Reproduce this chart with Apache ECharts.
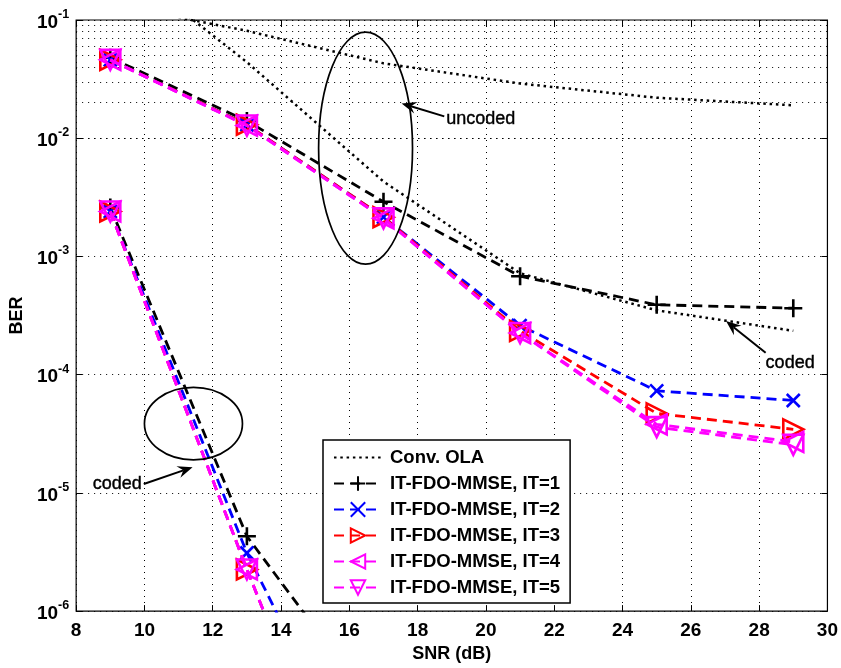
<!DOCTYPE html>
<html>
<head>
<meta charset="utf-8">
<script src="https://cdn.jsdelivr.net/npm/echarts@6/dist/echarts.min.js"></script>
<style>
  html, body { margin: 0; padding: 0; background: #fff; }
  #chart { width: 841px; height: 668px; }
</style>
</head>
<body>
<div id="chart"></div>
<script>
// SNR points (dB)
const snrUncoded = [9, 13, 17, 21, 25, 29]
const snrCoded = [9, 13, 17]
const snrOla = [11, 13, 17, 21, 25, 29]

// Conv. OLA curves
const olaUncoded = [0.105, 8.1e-2, 4.3e-2, 2.9e-2, 2.2e-2, 1.9e-2]
const olaCoded = [0.125, 4.4e-2, 4.3e-3, 7.2e-4, 3.5e-4, 2.35e-4]

// IT-FDO-MMSE, uncoded (upper group)
const it1Uncoded = [4.8e-2, 1.4e-2, 2.9e-3, 6.8e-4, 3.9e-4, 3.65e-4]
const it2Uncoded = [4.6e-2, 1.3e-2, 2.15e-3, 2.6e-4, 7.3e-5, 6.05e-5]
const it3Uncoded = [4.6e-2, 1.3e-2, 2.15e-3, 2.35e-4, 4.7e-5, 3.45e-5]
const it4Uncoded = [4.6e-2, 1.28e-2, 2.1e-3, 2.25e-4, 3.8e-5, 2.7e-5]
const it5Uncoded = [4.6e-2, 1.28e-2, 2.1e-3, 2.25e-4, 3.6e-5, 2.55e-5]

// IT-FDO-MMSE, coded (steep group, goes below 1e-6)
const it1Coded = [2.6e-3, 4.3e-6, 1.2e-7]
const it2Coded = [2.4e-3, 3.1e-6, 1.5e-8]
const it3Coded = [2.4e-3, 2.25e-6, 3e-9]
const it4Coded = [2.4e-3, 2.25e-6, 3e-9]
const it5Coded = [2.4e-3, 2.25e-6, 3e-9]

const itNames = ['IT-FDO-MMSE, IT=1', 'IT-FDO-MMSE, IT=2', 'IT-FDO-MMSE, IT=3', 'IT-FDO-MMSE, IT=4', 'IT-FDO-MMSE, IT=5']

// annotations, in data coordinates
const ellipseUncoded = [15.1, 17.85, 8.6e-4, 7.9e-2] // x0, x1, y0, y1
const ellipseCoded = [10.0, 12.87, 1.9e-5, 7.8e-5]
const arrowUncoded = [[18.78, 1.53e-2], [17.53, 1.97e-2]] // tail, tip
const arrowCodedLeft = [[9.98, 1.19e-5], [11.41, 1.65e-5]]
const arrowCodedRight = [[28.19, 1.53e-4], [27.03, 2.84e-4]]

const FONT = 'Liberation Sans, Arial, Helvetica, sans-serif'
const itColors = ['#000000', '#0000ff', '#ff0000', '#ff00ff', '#ff00ff']
const itSymbols = [
  'path://M0,5L10,5M5,0L5,10',
  'path://M0,0L10,10M10,0L0,10',
  'path://M0,0L10,5L0,10Z',
  'path://M10,0L0,5L10,10Z',
  'path://M0,0L10,0L5,10Z'
]
const itSymbolSizes = [18, 13, 20, 20, 20]

function pairs(xs, ys) {
  return xs.map((x, i) => [x, ys[i]])
}

function itSeries(i, xs, ys) {
  return {
    name: itNames[i],
    type: 'line',
    data: pairs(xs, ys),
    symbol: itSymbols[i],
    symbolSize: itSymbolSizes[i],
    showAllSymbol: true,
    z: 3 + i,
    lineStyle: { color: itColors[i], width: 2.8, type: [10, 6] },
    itemStyle: { color: 'rgba(0,0,0,0)', borderColor: itColors[i], borderWidth: 2.6 }
  }
}

function olaSeries(ys) {
  return {
    name: 'Conv. OLA',
    type: 'line',
    data: pairs(snrOla, ys),
    symbol: 'none',
    z: 2,
    lineStyle: { color: '#000', width: 2.5, type: [2.5, 3.8] },
    itemStyle: { color: '#000' }
  }
}

// minor grid at 2..9 x 10^k
const minorValues = []
for (let e = -6; e < -1; e++) {
  for (let m = 2; m <= 9; m++) minorValues.push(m * Math.pow(10, e))
}

const gridStyle = { color: '#000', width: 1, type: [1, 5] }
const tickFont = { fontFamily: FONT, fontSize: 19, fontWeight: 'bold', color: '#000' }

const chart = echarts.init(document.getElementById('chart'))
chart.setOption({
  animation: false,
  backgroundColor: '#fff',
  grid: { left: 75, right: 11, top: 20, bottom: 53, show: true, borderColor: '#000', borderWidth: 1.2, backgroundColor: 'transparent' },
  legend: {
    data: [{ name: 'Conv. OLA', itemStyle: { opacity: 0 } }].concat(itNames),
    orient: 'vertical',
    left: 323,
    top: 440,
    itemWidth: 48,
    itemHeight: 18,
    itemGap: 7,
    padding: [8, 10, 6, 10],
    borderColor: '#000',
    borderWidth: 1.5,
    backgroundColor: '#fff',
    textStyle: { fontFamily: FONT, fontSize: 18.5, fontWeight: 'bold', color: '#000', padding: [0, 0, 0, 3] }
  },
  xAxis: [{
    type: 'value',
    min: 8,
    max: 30,
    interval: 2,
    name: 'SNR (dB)',
    nameLocation: 'middle',
    nameGap: 26,
    nameTextStyle: { fontFamily: FONT, fontSize: 18, fontWeight: 'bold', color: '#000' },
    axisLine: { show: false },
    axisTick: { show: true, inside: true, length: 6, lineStyle: { color: '#000' } },
    axisLabel: Object.assign({ margin: 10 }, tickFont),
    splitLine: { show: true, lineStyle: gridStyle }
  }, {
    type: 'value',
    position: 'top',
    min: 8,
    max: 30,
    interval: 2,
    axisLine: { show: false },
    axisTick: { show: true, inside: true, length: 6, lineStyle: { color: '#000' } },
    axisLabel: { show: false },
    splitLine: { show: false }
  }],
  yAxis: [{
    type: 'log',
    logBase: 10,
    min: 1e-6,
    max: 1e-1,
    splitNumber: 5,
    name: 'BER',
    nameLocation: 'middle',
    nameGap: 50,
    nameTextStyle: { fontFamily: FONT, fontSize: 18, fontWeight: 'bold', color: '#000' },
    axisLine: { show: false },
    axisTick: { show: true, inside: true, length: 6, lineStyle: { color: '#000' } },
    axisLabel: {
      margin: 7,
      formatter: v => '{b|10}{s|' + Math.round(Math.log10(v)) + '}',
      rich: {
        b: Object.assign({ lineHeight: 24, verticalAlign: 'bottom' }, tickFont),
        s: { fontFamily: FONT, fontSize: 12.5, fontWeight: 'bold', color: '#000', lineHeight: 24, verticalAlign: 'top' }
      }
    },
    splitLine: { show: true, lineStyle: gridStyle }
  }, {
    type: 'log',
    logBase: 10,
    position: 'right',
    min: 1e-6,
    max: 1e-1,
    splitNumber: 5,
    axisLine: { show: false },
    axisTick: { show: true, inside: true, length: 6, lineStyle: { color: '#000' } },
    axisLabel: { show: false },
    splitLine: { show: false }
  }],
  series: [
    {
      name: 'minor-grid',
      type: 'line',
      data: [],
      silent: true,
      z: 1,
      markLine: {
        silent: true,
        symbol: 'none',
        label: { show: false },
        lineStyle: gridStyle,
        data: minorValues.map(v => ({ yAxis: v }))
      }
    },
    olaSeries(olaUncoded),
    olaSeries(olaCoded),
    itSeries(0, snrUncoded, it1Uncoded),
    itSeries(0, snrCoded, it1Coded),
    itSeries(1, snrUncoded, it2Uncoded),
    itSeries(1, snrCoded, it2Coded),
    itSeries(2, snrUncoded, it3Uncoded),
    itSeries(2, snrCoded, it3Coded),
    itSeries(3, snrUncoded, it4Uncoded),
    itSeries(3, snrCoded, it4Coded),
    itSeries(4, snrUncoded, it5Uncoded),
    itSeries(4, snrCoded, it5Coded)
  ]
})

// annotations placed through the chart's own scales
function px(p) {
  return chart.convertToPixel({ gridIndex: 0 }, p)
}

function ellipse(box) {
  const a = px([box[0], box[3]])
  const b = px([box[1], box[2]])
  return {
    type: 'ellipse',
    z: 20,
    shape: { cx: (a[0] + b[0]) / 2, cy: (a[1] + b[1]) / 2, rx: (b[0] - a[0]) / 2, ry: (b[1] - a[1]) / 2 },
    style: { fill: 'none', stroke: '#000', lineWidth: 1.7 }
  }
}

function arrow(seg) {
  const a = px(seg[0])
  const b = px(seg[1])
  const ang = Math.atan2(b[1] - a[1], b[0] - a[0])
  const c = Math.cos(ang), s = Math.sin(ang)
  const L = 15, W = 6
  const back = [b[0] - L * c, b[1] - L * s]
  const notch = [b[0] - 0.65 * L * c, b[1] - 0.65 * L * s]
  return [{
    type: 'line',
    z: 20,
    shape: { x1: a[0], y1: a[1], x2: notch[0], y2: notch[1] },
    style: { stroke: '#000', lineWidth: 2 }
  }, {
    type: 'polygon',
    z: 20,
    shape: { points: [b, [back[0] - W * s, back[1] + W * c], notch, [back[0] + W * s, back[1] - W * c]] },
    style: { fill: '#000' }
  }]
}

function label(text, p, align, dx, dy) {
  const q = px(p)
  return {
    type: 'text',
    z: 20,
    x: q[0] + dx,
    y: q[1] + dy,
    style: { text: text, fontFamily: FONT, fontSize: 18, fill: '#000', align: align, verticalAlign: 'middle', stroke: '#000', lineWidth: 0.4 }
  }
}

chart.setOption({
  graphic: [
    ellipse(ellipseUncoded),
    ellipse(ellipseCoded),
    ...arrow(arrowUncoded),
    ...arrow(arrowCodedLeft),
    ...arrow(arrowCodedRight),
    label('uncoded', arrowUncoded[0], 'left', 2, 3),
    label('coded', arrowCodedLeft[0], 'right', -2, 0),
    label('coded', arrowCodedRight[0], 'left', 0, 10)
  ]
})
</script>
</body>
</html>
